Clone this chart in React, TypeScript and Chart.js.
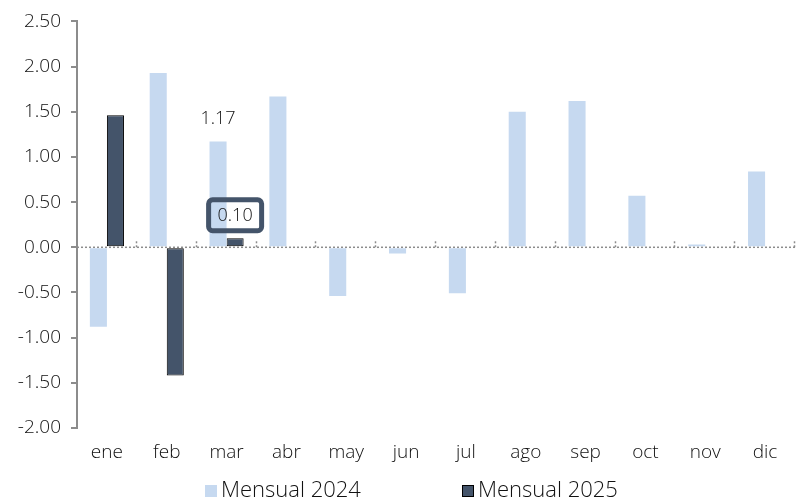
import React, { useEffect, useRef } from "react";
import { Chart, registerables } from "chart.js";

Chart.register(...registerables);

const months = ["ene", "feb", "mar", "abr", "may", "jun", "jul", "ago", "sep", "oct", "nov", "dic"];
const mensual2024 = [-0.88, 1.93, 1.17, 1.67, -0.54, -0.07, -0.51, 1.5, 1.62, 0.57, 0.03, 0.84];
const mensual2025 = [1.46, -1.42, 0.1, null, null, null, null, null, null, null, null, null];
const yTicks = [-2, -1.5, -1, -0.5, 0, 0.5, 1, 1.5, 2, 2.5];
const seriesNames = ["Mensual 2024", "Mensual 2025"];

const FONT = "'Open Sans', 'Noto Sans', sans-serif";
const TEXT = "#111111";
const LIGHT = "#c6d9f0";
const DARK = "#44546a";
const AXIS = "#8c8c8c";

const overlayPlugin = {
  id: "overlay",
  beforeDatasetsDraw(chart: any) {
    const { ctx, chartArea } = chart;
    const y = chart.scales.y;
    const y0 = y.getPixelForValue(0);
    ctx.save();
    ctx.strokeStyle = AXIS;
    ctx.lineWidth = 1.5;
    ctx.setLineDash([2, 2]);
    ctx.beginPath();
    ctx.moveTo(chartArea.left, y0);
    ctx.lineTo(chartArea.right, y0);
    ctx.stroke();
    const n = months.length;
    const step = (chartArea.right - chartArea.left) / n;
    for (let i = 1; i <= n; i++) {
      const px = Math.round(chartArea.left + step * i) - 0.5;
      ctx.beginPath();
      ctx.moveTo(px, y0 - 6);
      ctx.lineTo(px, y0);
      ctx.stroke();
    }
    ctx.restore();
  },
  afterDatasetsDraw(chart: any) {
    const { ctx } = chart;
    const m0 = chart.getDatasetMeta(0);
    const m1 = chart.getDatasetMeta(1);
    ctx.save();
    ctx.font = `300 18px ${FONT}`;
    ctx.fillStyle = TEXT;
    ctx.textAlign = "center";
    ctx.textBaseline = "middle";
    const b = m0.data[2];
    ctx.fillText(mensual2024[2].toFixed(2), b.x, b.y - 23);
    const c = m1.data[2];
    const cx = c.x;
    const cy = c.y - 23;
    const w = 53, h = 31;
    ctx.lineWidth = 5;
    ctx.strokeStyle = DARK;
    ctx.beginPath();
    (ctx as any).roundRect(cx - w / 2, cy - h / 2, w, h, 4);
    ctx.stroke();
    ctx.fillStyle = TEXT;
    ctx.fillText((mensual2025[2] as number).toFixed(2), cx, cy + 1);
    ctx.restore();
  },
  afterDraw(chart: any) {
    const { ctx } = chart;
    const colors = [LIGHT, DARK];
    const borders = [null, "#000000"];
    const starts = [205, 462];
    const yc = 491;
    ctx.save();
    ctx.font = `300 22px ${FONT}`;
    ctx.textBaseline = "middle";
    ctx.textAlign = "left";
    seriesNames.forEach((name, i) => {
      const x = starts[i];
      ctx.fillStyle = colors[i];
      ctx.fillRect(x, yc - 6, 12, 12);
      if (borders[i]) {
        ctx.strokeStyle = borders[i];
        ctx.lineWidth = 1;
        ctx.strokeRect(x + 0.5, yc - 5.5, 11, 11);
      }
      ctx.fillStyle = TEXT;
      ctx.fillText(name, x + 16, yc);
    });
    ctx.restore();
  },
};

export default function App() {
  const ref = useRef<HTMLCanvasElement>(null);
  useEffect(() => {
    const chart = new Chart(ref.current!, {
      type: "bar",
      data: {
        labels: months,
        datasets: [
          { label: seriesNames[0], data: mensual2024, backgroundColor: LIGHT, borderWidth: 0 },
          {
            label: seriesNames[1],
            data: mensual2025,
            backgroundColor: DARK,
            borderColor: "#000000",
            borderWidth: 1,
            borderSkipped: false,
          },
        ],
      },
      options: {
        animation: false,
        responsive: false,
        maintainAspectRatio: false,
        layout: { padding: { left: 0, right: 1, top: 19, bottom: 30 } },
        datasets: { bar: { barPercentage: 1, categoryPercentage: 0.57 } },
        scales: {
          x: {
            grid: { display: false, drawTicks: false },
            border: { display: false },
            ticks: { color: TEXT, font: { family: FONT, size: 19, weight: 300 }, padding: 13 },
            afterFit: (s: any) => { s.height = 44; },
          },
          y: {
            min: -2,
            max: 2.5,
            afterBuildTicks: (s: any) => { s.ticks = yTicks.map((v) => ({ value: v })); },
            ticks: {
              color: TEXT,
              font: { family: FONT, size: 19, weight: 300 },
              padding: 10,
              callback: (v: any) => Number(v).toFixed(2),
            },
            grid: { drawOnChartArea: false, drawTicks: true, tickLength: 6, color: AXIS, lineWidth: 2 },
            border: { display: true, color: AXIS, width: 2 },
            afterFit: (s: any) => { s.width = 77; },
          },
        },
        plugins: {
          legend: { display: false },
          tooltip: { enabled: false },
        },
      },
      plugins: [overlayPlugin],
    });
    return () => chart.destroy();
  }, []);
  return (
    <div style={{ position: "fixed", left: 0, top: 0, width: 796, height: 502, background: "#fff" }}>
      <canvas ref={ref} width={796} height={502} />
    </div>
  );
}
